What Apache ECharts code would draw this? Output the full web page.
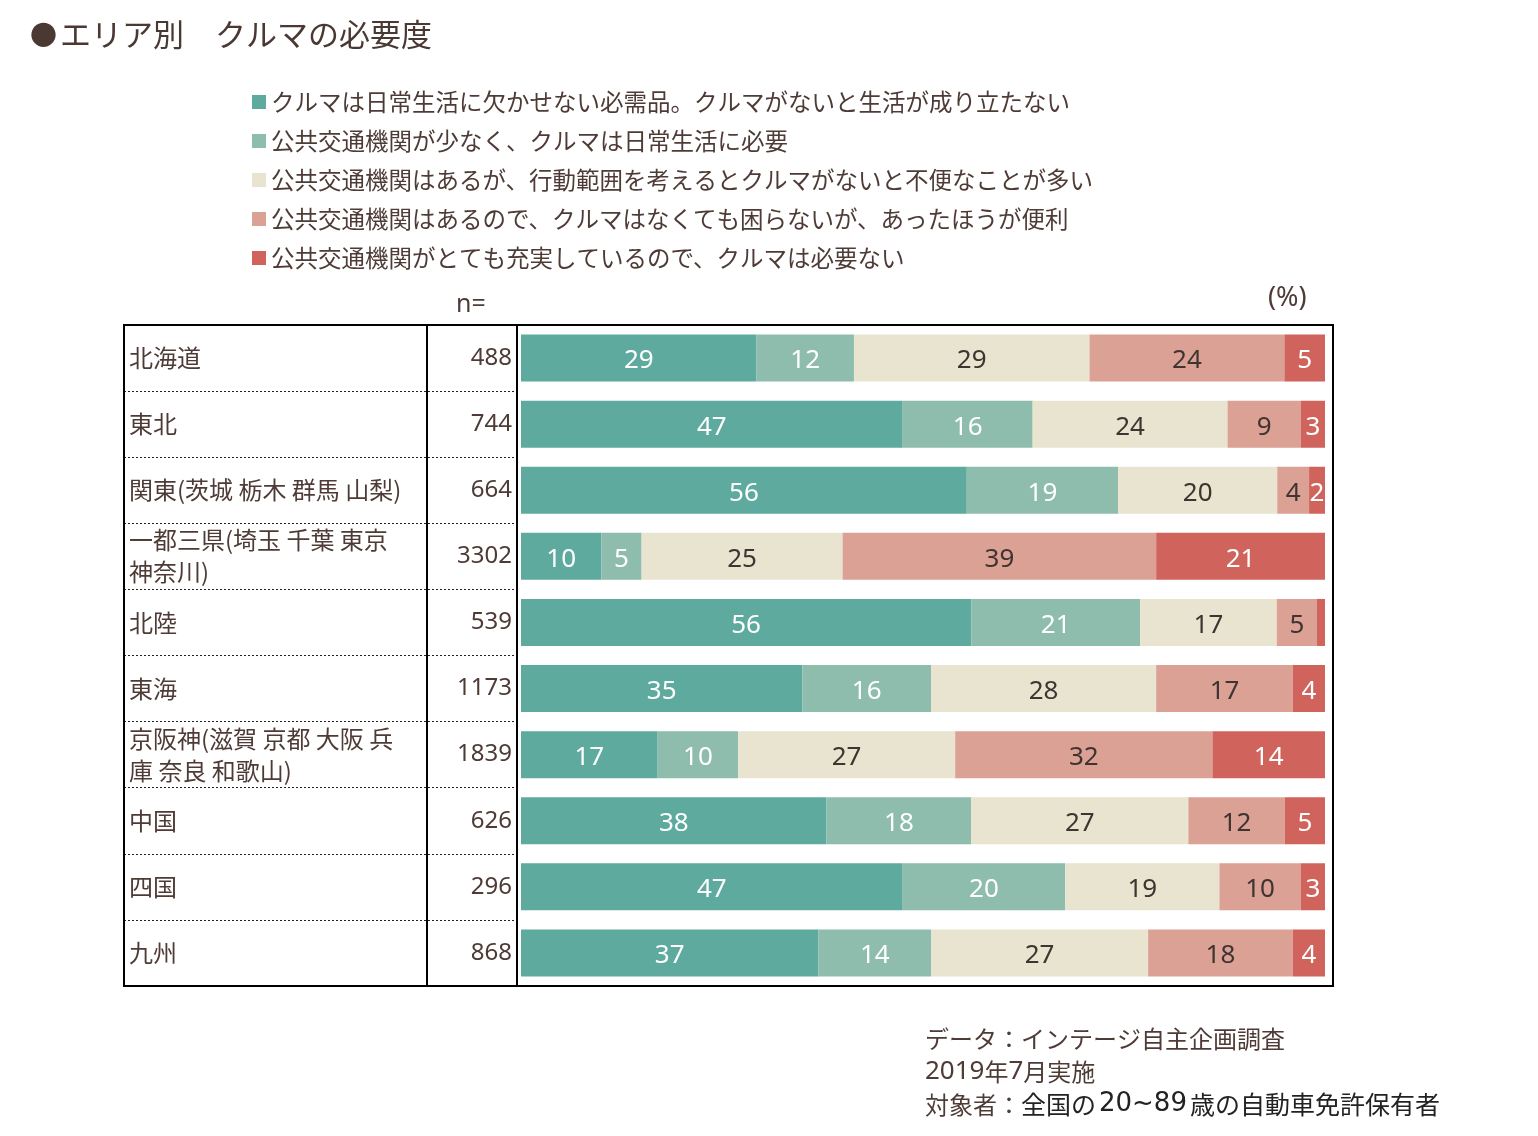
<!DOCTYPE html>
<html>
<head>
<meta charset="utf-8">
<title>エリア別 クルマの必要度</title>
<script src="https://cdn.jsdelivr.net/npm/echarts@6/dist/echarts.min.js"></script>
<style>
  html, body { margin: 0; padding: 0; background: #fff; }
  #chart { width: 1538px; height: 1136px; }
</style>
</head>
<body>
<div id="chart"></div>
<script>
// 地域と回答者数
const regions = [
  "北海道", "東北", "関東(茨城 栃木 群馬 山梨)", "一都三県(埼玉 千葉 東京\n神奈川)",
  "北陸", "東海", "京阪神(滋賀 京都 大阪 兵\n庫 奈良 和歌山)", "中国", "四国", "九州"
];
const sampleSizes = [488, 744, 664, 3302, 539, 1173, 1839, 626, 296, 868];

const seriesNames = [
  "クルマは日常生活に欠かせない必需品。クルマがないと生活が成り立たない",
  "公共交通機関が少なく、クルマは日常生活に必要",
  "公共交通機関はあるが、行動範囲を考えるとクルマがないと不便なことが多い",
  "公共交通機関はあるので、クルマはなくても困らないが、あったほうが便利",
  "公共交通機関がとても充実しているので、クルマは必要ない"
];

// 各回答の割合（%）
const essential    = [29, 47, 56, 10, 56, 35, 17, 38, 47, 37];
const needed       = [12, 16, 19,  5, 21, 16, 10, 18, 20, 14];
const inconvenient = [29, 24, 20, 25, 17, 28, 27, 27, 19, 27];
const convenient   = [24,  9,  4, 39,  5, 17, 32, 12, 10, 18];
const notNeeded    = [ 5,  3,  2, 21,  1,  4, 14,  5,  3,  4];

const colors = ["#5eaa9e", "#8fbdad", "#e9e4cf", "#dca195", "#d0635c"];
const labelColors = ["#ffffff", "#ffffff", "#3f3431", "#3f3431", "#ffffff"];
const textColor = "#4e3b36";

const allSeries = [essential, needed, inconvenient, convenient, notNeeded];

// 表示上の丸め誤差を吸収して各行を100%に揃える
const rowTotals = regions.map((_, i) => allSeries.reduce((s, arr) => s + arr[i], 0));

const series = allSeries.map((arr, k) => ({
  name: seriesNames[k],
  type: "bar",
  stack: "total",
  xAxisIndex: 0,
  yAxisIndex: 0,
  barWidth: 47,
  itemStyle: { color: colors[k] },
  label: {
    show: true,
    position: "inside",
    offset: [0, 3],
    fontFamily: "Noto Sans",
    fontSize: 26,
    color: labelColors[k],
    formatter: (p) => (p.data.raw >= 2 ? String(p.data.raw) : ""),
  },
  emphasis: { disabled: true },
  data: arr.map((v, i) => ({ value: (v * 100) / rowTotals[i], raw: v })),
}));

const chart = echarts.init(document.getElementById("chart"), null, { renderer: "canvas" });

chart.setOption({
  animation: false,
  backgroundColor: "#fff",
  textStyle: { fontFamily: "Noto Sans CJK JP" },
  title: {
    text: "{dot|●}エリア別　クルマの必要度",
    left: 25,
    top: 14,
    textStyle: {
      fontFamily: "Noto Sans CJK JP",
      fontSize: 31,
      fontWeight: "normal",
      color: "#4a3833",
      rich: {
        dot: { fontFamily: "Noto Sans CJK JP", fontSize: 27, color: "#4a3833", padding: [0, 3, 0, 0] },
      },
    },
  },
  legend: {
    orient: "vertical",
    left: 247,
    top: 84,
    itemWidth: 14,
    itemHeight: 14,
    itemGap: 13,
    icon: "rect",
    selectedMode: false,
    data: seriesNames,
    textStyle: { fontFamily: "Noto Sans CJK JP", fontSize: 23.5, lineHeight: 26, color: textColor },
  },
  grid: [
    { left: 521, top: 325, width: 804, height: 661 },
    { left: 124, top: 325, width: 393, height: 661 },
  ],
  xAxis: [
    { gridIndex: 0, type: "value", min: 0, max: 100, show: false },
    { gridIndex: 1, type: "value", min: 0, max: 100, show: false },
  ],
  yAxis: [
    {
      gridIndex: 0,
      type: "category",
      inverse: true,
      data: regions,
      axisLine: { show: false },
      axisTick: { show: false },
      axisLabel: { show: false },
    },
    {
      gridIndex: 1,
      type: "category",
      inverse: true,
      position: "left",
      data: regions,
      axisLine: { show: false },
      axisTick: { show: false },
      splitLine: { show: true, lineStyle: { color: "#222", width: 1, type: [2, 2] } },
      axisLabel: {
        inside: true,
        margin: 5,
        align: "left",
        fontFamily: "Noto Sans CJK JP",
        fontSize: 24,
        lineHeight: 32,
        color: textColor,
      },
    },
    {
      gridIndex: 1,
      type: "category",
      inverse: true,
      position: "right",
      data: sampleSizes.map(String),
      axisLine: { show: false },
      axisTick: { show: false },
      axisLabel: {
        inside: true,
        margin: 5,
        align: "right",
        fontFamily: "Noto Sans",
        fontSize: 24,
        color: textColor,
      },
    },
  ],
  graphic: [
    // 表の枠線
    { type: "rect", shape: { x: 124, y: 325, width: 1209, height: 661 }, style: { fill: "none", stroke: "#000", lineWidth: 2 }, z: 10 },
    { type: "line", shape: { x1: 427, y1: 325, x2: 427, y2: 986 }, style: { stroke: "#000", lineWidth: 2 }, z: 10 },
    { type: "line", shape: { x1: 517, y1: 325, x2: 517, y2: 986 }, style: { stroke: "#000", lineWidth: 2 }, z: 10 },
    { type: "text", left: 456, top: 292, style: { text: "n=", font: '25px "Noto Sans"', fill: textColor } },
    { type: "text", left: 1268, top: 285, style: { text: "(%)", font: '27px "Noto Sans"', fill: textColor } },
    {
      type: "text",
      left: 925,
      top: 1022,
      style: {
        text: "データ：インテージ自主企画調査\n{n|2019}年{n|7}月実施\n対象者：{b|全国の}{d|20~89}{b|歳の自動車免許保有者}",
        font: '24px "Noto Sans CJK JP"',
        lineHeight: 33,
        fill: textColor,
        rich: {
          n: { fontFamily: "Noto Sans", fontSize: 26, lineHeight: 33, fill: textColor },
          b: { fontFamily: "Noto Sans CJK JP", fontSize: 25, lineHeight: 33, fill: "#222" },
          d: { fontFamily: "DejaVu Sans", fontSize: 26, lineHeight: 33, fill: "#222", padding: [0, 3] },
        },
      },
    },
  ],
  series,
});

window.addEventListener("resize", () => chart.resize());
</script>
</body>
</html>
